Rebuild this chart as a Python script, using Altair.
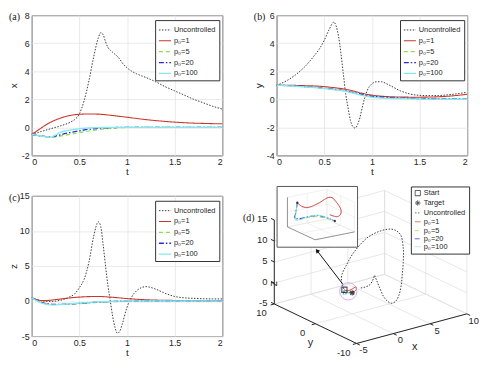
import math
import altair as alt
import numpy as np
import pandas as pd

# ---------------- data ----------------
t_unc = [0, 0.1, 0.2, 0.3, 0.4, 0.45, 0.5, 0.55, 0.6, 0.65, 0.7, 0.725, 0.75, 0.775, 0.8, 0.825,
         0.85, 0.875, 0.9, 0.925, 0.95, 1.0, 1.05, 1.1, 1.15, 1.2, 1.3, 1.4, 1.5, 1.6, 1.7, 1.8, 1.9, 2.0]
x_unc = [-0.5, -0.3, -0.1, 0.1, 0.35, 0.55, 0.95, 1.9, 3.3, 5.0, 6.4, 6.75, 6.6, 6.1, 5.7, 5.5,
         5.35, 5.2, 5.05, 4.85, 4.6, 4.25, 4.0, 3.82, 3.68, 3.55, 3.25, 2.9, 2.6, 2.3, 2.0, 1.75, 1.5, 1.3]
y_unc = [1.0, 1.3, 1.75, 2.35, 3.15, 3.6, 4.2, 4.95, 5.5, 4.5, 1.85, 0.4, -0.6, -1.5, -1.95, -2.05,
         -1.8, -1.3, -0.55, 0.1, 0.6, 1.1, 1.25, 1.25, 1.12, 0.95, 0.6, 0.38, 0.28, 0.26, 0.27, 0.32, 0.4, 0.5]
z_unc = [0.5, 0.05, -0.05, 0.1, 0.6, 1.0, 1.9, 3.1, 5.5, 9.2, 11.3, 10.6, 8.0, 5.0, 2.2, 0.0,
         -2.2, -3.8, -4.6, -4.3, -3.3, -0.9, 0.6, 1.45, 1.9, 2.05, 1.7, 1.1, 0.65, 0.45, 0.38, 0.33, 0.3, 0.3]

t_c = [0, 0.05, 0.1, 0.15, 0.2, 0.25, 0.3, 0.4, 0.5, 0.6, 0.7, 0.8, 0.9, 1.0,
       1.1, 1.2, 1.3, 1.4, 1.5, 1.6, 1.7, 1.8, 1.9, 2.0]
x_p1 = [-0.5, -0.28, -0.05, 0.18, 0.37, 0.52, 0.65, 0.84, 0.93, 0.95, 0.94, 0.88, 0.8, 0.72,
        0.63, 0.55, 0.48, 0.42, 0.37, 0.33, 0.3, 0.28, 0.26, 0.25]
x_p5 = [-0.5, -0.56, -0.62, -0.67, -0.7, -0.68, -0.63, -0.5, -0.38, -0.26, -0.17, -0.09, -0.04, -0.01,
        0, 0, 0, 0, 0, 0, 0, 0, 0, 0]
x_p20 = [-0.5, -0.56, -0.62, -0.67, -0.68, -0.62, -0.53, -0.38, -0.25, -0.14, -0.07, -0.03, -0.01, 0,
         0, 0, 0, 0, 0, 0, 0, 0, 0, 0]
x_p100 = [-0.5, -0.56, -0.62, -0.67, -0.7, -0.55, -0.36, -0.2, -0.1, -0.05, -0.02, 0, 0, 0,
          0, 0, 0, 0, 0, 0, 0, 0, 0, 0]
y_p1 = [1.0, 1.0, 1.0, 1.0, 0.99, 0.98, 0.97, 0.95, 0.9, 0.83, 0.74, 0.6, 0.43, 0.3,
        0.22, 0.18, 0.16, 0.15, 0.15, 0.16, 0.18, 0.22, 0.28, 0.36]
y_p5 = [1.0, 0.99, 0.98, 0.97, 0.95, 0.93, 0.9, 0.85, 0.79, 0.71, 0.62, 0.48, 0.33, 0.2,
        0.14, 0.1, 0.08, 0.06, 0.05, 0.04, 0.03, 0.02, 0.02, 0.01]
y_p20 = [1.0, 0.99, 0.98, 0.97, 0.95, 0.93, 0.9, 0.85, 0.79, 0.71, 0.62, 0.49, 0.35, 0.22,
         0.17, 0.12, 0.09, 0.07, 0.05, 0.04, 0.03, 0.02, 0.02, 0.01]
y_p100 = [1.0, 0.99, 0.97, 0.95, 0.93, 0.9, 0.88, 0.83, 0.77, 0.69, 0.6, 0.45, 0.28, 0.15,
          0.09, 0.06, 0.04, 0.03, 0.02, 0.01, 0.01, 0, 0, 0]
z_p1 = [0.5, 0.2, 0.06, 0.05, 0.12, 0.2, 0.28, 0.44, 0.56, 0.63, 0.65, 0.58, 0.47, 0.35,
        0.25, 0.18, 0.13, 0.1, 0.08, 0.07, 0.06, 0.06, 0.05, 0.05]
z_p5 = [0.5, 0.1, -0.2, -0.38, -0.47, -0.5, -0.5, -0.45, -0.37, -0.28, -0.2, -0.12, -0.07, -0.03,
        -0.01, 0, 0, 0, 0, 0, 0, 0, 0, 0]
z_p20 = [0.5, 0.1, -0.2, -0.38, -0.47, -0.49, -0.48, -0.42, -0.33, -0.24, -0.15, -0.08, -0.03, -0.01,
         0, 0, 0, 0, 0, 0, 0, 0, 0, 0]
z_p100 = [0.5, 0.05, -0.25, -0.45, -0.55, -0.55, -0.5, -0.4, -0.3, -0.2, -0.12, -0.06, -0.02, 0,
          0, 0, 0, 0, 0, 0, 0, 0, 0, 0]

start_pt = [-0.5, 1.0, 0.5]
target_pt = [0.0, 0.0, 0.0]

SER = ["Uncontrolled", "p\u2080=1", "p\u2080=5", "p\u2080=20", "p\u2080=100"]
COL = ["#3a3a3a", "#c9372c", "#86e04c", "#2a2ad6", "#86e8ee"]
DASH = [[1.5, 1.5], [1, 0], [4, 3], [5, 2, 1.5, 2], [1, 0]]
WID = [1.0, 1.4, 1.3, 1.3, 2.4]

D_SER = ["Start", "Target"] + SER
D_COL = ["#000000", "#000000"] + COL
D_DASH = [[1, 0], [1, 0]] + DASH
D_WID = [1.0, 1.0] + WID
ASTER = "M-1,0L1,0M0,-1L0,1M-0.7,-0.7L0.7,0.7M-0.7,0.7L0.7,-0.7"
D_SHAPE = ["square", ASTER, "stroke", "stroke", "stroke", "stroke", "stroke"]
D_SIZE = [28, 40, 150, 150, 150, 150, 150]

FONT = "Liberation Sans"
INK = "#262626"
GRID = "#dedede"

# ---------------- layout (page pixels) ----------------
PW, PH = 193, 142          # plot area of panels a-c
COLSP, ROWSP = 55, 41
LEFT = 8 + 23              # page x of the first column's plot area
TOP = 8 + 4.5              # page y of the first row's plot area
COL2 = LEFT + PW + COLSP
ROW2 = TOP + PH + ROWSP
DW = 205

# ---------------- long table ----------------
rows = []
for i, t in enumerate(t_unc):
    rows.append({"series": SER[0], "k": 0, "t": t, "x": x_unc[i], "y": y_unc[i], "z": z_unc[i]})
for k, (xs, ys, zs) in enumerate([(x_p1, y_p1, z_p1), (x_p5, y_p5, z_p5),
                                  (x_p20, y_p20, z_p20), (x_p100, y_p100, z_p100)], start=1):
    for i, t in enumerate(t_c):
        rows.append({"series": SER[k], "k": k, "t": t, "x": xs[i], "y": ys[i], "z": zs[i]})
df = pd.DataFrame(rows)

# ---------------- 3D view (camera, page pixels) ----------------
MAIN = {"lim": {"x": (-5, 10), "y": (-10, 10), "z": (-5, 15)},
        "o": (360.0, 345.0), "ex": (111.7, -30.0), "ey": (-83.3, -40.0), "ez": (0.0, -85.0)}
INSET = {"lim": {"x": (-1, 1), "y": (0, 1), "z": (-1, 1)},
         "o": (318.0, 240.0), "ex": (40.0, -8.0), "ey": (-28.0, -13.0), "ez": (0.0, -30.0)}


def project(x, y, z, v):
    L = v["lim"]
    fx = (np.asarray(x, float) - L["x"][0]) / (L["x"][1] - L["x"][0])
    fy = (np.asarray(y, float) - L["y"][0]) / (L["y"][1] - L["y"][0])
    fz = (np.asarray(z, float) - L["z"][0]) / (L["z"][1] - L["z"][0])
    sx = v["o"][0] + fx * v["ex"][0] + fy * v["ey"][0] + fz * v["ez"][0]
    sy = v["o"][1] + fx * v["ex"][1] + fy * v["ey"][1] + fz * v["ez"][1]
    return sx, sy


def seg_frame(segs, v):
    a = np.array([s[0] for s in segs], float)
    b = np.array([s[1] for s in segs], float)
    sx, sy = project(a[:, 0], a[:, 1], a[:, 2], v)
    sx2, sy2 = project(b[:, 0], b[:, 1], b[:, 2], v)
    return pd.DataFrame({"sx": sx, "sy": sy, "sx2": sx2, "sy2": sy2})


def grid_segs(v, xt, yt, zt):
    lx, ly, lz = v["lim"]["x"], v["lim"]["y"], v["lim"]["z"]
    segs = []
    for xv in xt:
        segs.append(((xv, ly[0], lz[0]), (xv, ly[1], lz[0])))
        segs.append(((xv, ly[1], lz[0]), (xv, ly[1], lz[1])))
    for yv in yt:
        segs.append(((lx[0], yv, lz[0]), (lx[1], yv, lz[0])))
        segs.append(((lx[1], yv, lz[0]), (lx[1], yv, lz[1])))
    for zv in zt:
        segs.append(((lx[0], ly[1], zv), (lx[1], ly[1], zv)))
        segs.append(((lx[1], ly[0], zv), (lx[1], ly[1], zv)))
    return seg_frame(segs, v)


def axis_segs(v):
    lx, ly, lz = v["lim"]["x"], v["lim"]["y"], v["lim"]["z"]
    segs = [((lx[0], ly[1], lz[0]), (lx[0], ly[1], lz[1])),
            ((lx[0], ly[1], lz[0]), (lx[0], ly[0], lz[0])),
            ((lx[0], ly[0], lz[0]), (lx[1], ly[0], lz[0]))]
    return seg_frame(segs, v)


x_ticks3 = [-5, 0, 5, 10]
y_ticks3 = [-10, 0, 10]
z_ticks3 = [-5, 0, 5, 10, 15]

XS = alt.Scale(domain=[COL2, COL2 + DW], nice=False, zero=False)
YS = alt.Scale(domain=[ROW2, ROW2 + PH], reverse=True, nice=False, zero=False)


def enc_xy():
    return dict(x=alt.X("sx:Q", scale=XS, axis=None), y=alt.Y("sy:Q", scale=YS, axis=None))


def rules(frame, color, width):
    return alt.Chart(frame).mark_rule(color=color, strokeWidth=width).encode(
        x2="sx2:Q", y2="sy2:Q", **enc_xy())


def texts(frame, **kw):
    return alt.Chart(frame).mark_text(font=FONT, color=INK, **kw).encode(text="label:N", **enc_xy())


def label_frame(pts, labels, v):
    a = np.array(pts, float)
    sx, sy = project(a[:, 0], a[:, 1], a[:, 2], v)
    return pd.DataFrame({"sx": sx, "sy": sy, "label": labels})


# ---------------- panels (a)-(c) ----------------
def panel(var, domain, ticks, tag, anchor=False):
    lg = alt.Legend(title=None, orient="none", legendX=125, legendY=5)
    lines = alt.Chart(df).mark_line(interpolate="monotone", clip=True).encode(
        x=alt.X("t:Q", scale=alt.Scale(domain=[0, 2], nice=False),
                axis=alt.Axis(values=[0, 0.5, 1, 1.5, 2], labelExpr="'' + datum.value",
                              title="t", labelPadding=2.5, titleY=11.5, titleBaseline="top")),
        y=alt.Y(f"{var}:Q", scale=alt.Scale(domain=domain, nice=False, zero=False),
                axis=alt.Axis(values=ticks, labelExpr="'' + datum.value", title=var,
                              labelPadding=2.5, titleX=-13)),
        color=alt.Color("series:N", scale=alt.Scale(domain=SER, range=COL), legend=lg),
        strokeDash=alt.StrokeDash("series:N", scale=alt.Scale(domain=SER, range=DASH), legend=lg),
        strokeWidth=alt.StrokeWidth("series:N", scale=alt.Scale(domain=SER, range=WID), legend=lg),
    )
    tagc = alt.Chart(pd.DataFrame({"tag": [tag]})).mark_text(
        align="left", baseline="top", font="Liberation Serif", fontSize=10, color="#111"
    ).encode(text="tag:N", x=alt.value(-23), y=alt.value(-3))
    layers = [lines, tagc]
    if anchor:
        layers.append(alt.Chart(pd.DataFrame({"a": [0]})).mark_point(
            size=1, opacity=0, filled=True, strokeWidth=0).encode(
            x=alt.value(-22.5), y=alt.value(-4)))
    return alt.layer(*layers).properties(width=PW, height=PH)


pa = panel("x", [-2, 8], [-2, 0, 2, 4, 6, 8], "(a)", anchor=True)
pb = panel("y", [-4, 6], [-4, -2, 0, 2, 4, 6], "(b)")
pc = panel("z", [-5, 15], [-5, 0, 5, 10, 15], "(c)")

# ---------------- panel (d) ----------------
d3 = df.copy()
d3["sx"], d3["sy"] = project(d3["x"], d3["y"], d3["z"], MAIN)
dctrl = df[df["k"] > 0].copy()
dctrl["sx"], dctrl["sy"] = project(dctrl["x"], dctrl["y"], dctrl["z"], INSET)

dlg = alt.Legend(title=None, orient="none", legendX=415 - COL2, legendY=186 - ROW2)
dcolor = alt.Color("series:N", scale=alt.Scale(domain=D_SER, range=D_COL), legend=dlg)
ddash = alt.StrokeDash("series:N", scale=alt.Scale(domain=D_SER, range=D_DASH), legend=dlg)

grid_main = rules(grid_segs(MAIN, x_ticks3, y_ticks3, z_ticks3), GRID, 0.7)
axes_main = rules(axis_segs(MAIN), INK, 1.0)

tick_segs = []
for zv in z_ticks3:
    tick_segs.append(((-5, 10, zv), (-5, 10.8, zv)))
for yv in y_ticks3:
    tick_segs.append(((-5, yv, -5), (-5.5, yv, -5)))
for xv in x_ticks3:
    tick_segs.append(((xv, -10, -5), (xv, -10.8, -5)))
ticks_main = rules(seg_frame(tick_segs, MAIN), INK, 1.0)

zlab = texts(label_frame([(-5, 10, zv) for zv in z_ticks3], [str(v) for v in z_ticks3], MAIN),
             align="right", baseline="middle", dx=-7, dy=-1, fontSize=9.5)
ylab = texts(label_frame([(-5, yv, -5) for yv in y_ticks3], [str(v) for v in y_ticks3], MAIN),
             align="center", baseline="middle", dx=-13, dy=9.5, fontSize=9.5)
xlab = texts(label_frame([(xv, -10, -5) for xv in x_ticks3], [str(v) for v in x_ticks3], MAIN),
             align="center", baseline="middle", dx=7, dy=7, fontSize=9.5)
ztitle = texts(label_frame([(-5, 10, 5)], ["z"], MAIN), align="center", baseline="middle",
               dx=-22, angle=270, fontSize=11)
ytitle = texts(label_frame([(-5, 0, -5)], ["y"], MAIN), align="center", baseline="middle",
               dx=-5, dy=20, fontSize=11)
xtitle = texts(label_frame([(2.5, -10, -5)], ["x"], MAIN), align="center", baseline="middle",
               dx=3, dy=19, fontSize=11)

curves_main = alt.Chart(d3).mark_line(interpolate="catmull-rom").encode(
    color=dcolor, strokeDash=ddash,
    strokeWidth=alt.StrokeWidth("series:N", scale=alt.Scale(domain=D_SER, range=D_WID), legend=dlg),
    order=alt.Order("t:Q"), detail="series:N", **enc_xy())

mk = label_frame([start_pt, target_pt], ["Start", "Target"], MAIN).rename(columns={"label": "series"})
markers_main = alt.Chart(mk).mark_point(filled=False, strokeWidth=1.1).encode(
    color=dcolor,
    shape=alt.Shape("series:N", scale=alt.Scale(domain=D_SER, range=D_SHAPE), legend=dlg),
    size=alt.Size("series:N", scale=alt.Scale(domain=D_SER, range=D_SIZE), legend=dlg),
    **enc_xy())

cx, cy = project([-0.25], [0.5], [0.25], MAIN)
cx, cy = float(cx[0]), float(cy[0])
circle = alt.Chart(pd.DataFrame({"sx": [cx], "sy": [cy]})).mark_point(
    shape="circle", size=310, filled=False, color="#c98be6", strokeWidth=1).encode(**enc_xy())

# inset frame (layout box) and arrow
INSET_BOX = (279.5, 186.0, 361.0, 247.5)
tip = (320.0, 251.0)
vx, vy = tip[0] - cx, tip[1] - cy
vn = math.hypot(vx, vy)
tail = (cx + 9.0 * vx / vn, cy + 9.0 * vy / vn)
arrow = alt.Chart(pd.DataFrame({"sx": [tail[0]], "sy": [tail[1]], "sx2": [tip[0]], "sy2": [tip[1]]})
                  ).mark_rule(color="#111", strokeWidth=1).encode(x2="sx2:Q", y2="sy2:Q", **enc_xy())
ang = (math.degrees(math.atan2(vx, -vy)) + 360) % 360
head = alt.Chart(pd.DataFrame({"sx": [tip[0]], "sy": [tip[1]]})).mark_point(
    shape="triangle-up", size=22, filled=True, color="#111", angle=ang, opacity=1).encode(**enc_xy())

box = alt.Chart(pd.DataFrame({"sx": [INSET_BOX[0]], "sy": [INSET_BOX[1]],
                              "sx2": [INSET_BOX[2]], "sy2": [INSET_BOX[3]]})).mark_rect(
    fill="white", stroke="#555", strokeWidth=1).encode(x2="sx2:Q", y2="sy2:Q", **enc_xy())
grid_in = rules(grid_segs(INSET, [-1, 0, 1], [0, 0.5, 1], [-1, 0, 1]), "#e2e2e2", 0.5)
axes_in = rules(axis_segs(INSET), "#555", 0.6)
curves_in = alt.Chart(dctrl).mark_line(interpolate="catmull-rom", strokeWidth=1).encode(
    color=dcolor, strokeDash=ddash, order=alt.Order("t:Q"), detail="series:N", **enc_xy())
mk_in = label_frame([start_pt, target_pt], ["Start", "Target"], INSET)
markers_in = alt.Chart(mk_in).mark_point(filled=True, size=6, color="#000").encode(**enc_xy())

dtag = alt.Chart(pd.DataFrame({"tag": ["(d)"]})).mark_text(
    align="left", baseline="top", font="Liberation Serif", fontSize=10, color="#111"
).encode(text="tag:N", x=alt.value(245 - COL2), y=alt.value(213 - ROW2))

pd_chart = alt.layer(
    grid_main, axes_main, ticks_main, zlab, ylab, xlab, ztitle, ytitle, xtitle,
    curves_main, markers_main, circle, arrow, head,
    box, grid_in, axes_in, curves_in, markers_in, dtag
).properties(width=DW, height=PH, view=alt.ViewBackground(strokeOpacity=0))

NOPAD = {"left": 0, "top": 0, "right": 0, "bottom": 0}
chart = alt.concat(pa, pb, pc, pd_chart, columns=2, spacing={"row": ROWSP, "column": COLSP},
                   bounds="flush").resolve_scale(
    color="independent", strokeDash="independent", strokeWidth="independent",
    shape="independent", size="independent"
).resolve_legend(
    color="independent", strokeDash="independent", strokeWidth="independent",
    shape="independent", size="independent"
).properties(padding=NOPAD).configure(padding=NOPAD).configure_view(
    stroke=INK, strokeWidth=1
).configure_axis(
    grid=True, gridColor="#e4e4e4", gridWidth=0.8, domain=False, ticks=False,
    labelFont=FONT, labelFontSize=9, labelColor=INK,
    titleFont=FONT, titleFontSize=10, titleFontWeight="normal", titleColor=INK
).configure_legend(
    labelFont=FONT, labelFontSize=7.5, labelColor=INK, strokeColor="#333", fillColor="white",
    padding=3, symbolSize=150, rowPadding=0, labelOffset=2, symbolType="stroke", cornerRadius=0
)

chart.save("out.html", embed_options={"renderer": "svg", "actions": False})
